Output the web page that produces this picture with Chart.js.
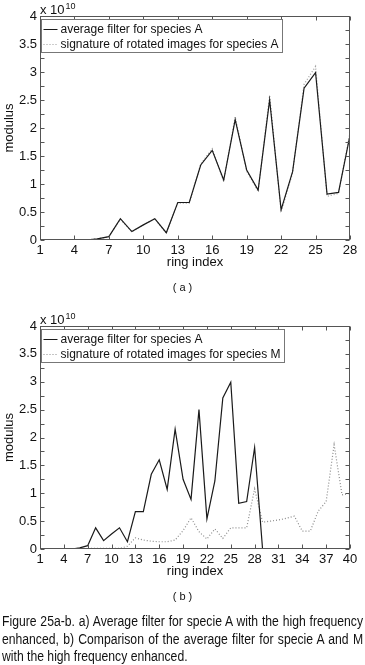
<!DOCTYPE html>
<html lang="en">
<head>
<meta charset="UTF-8">
<script src="https://cdn.jsdelivr.net/npm/chart.js"></script>
<title>Figure 25a-b</title>
<style>
    body { margin: 0; background: #fff; }
    #page { position: relative; width: 365px; height: 665px; overflow: hidden; font-family: "Liberation Sans", Arial, sans-serif; color: #111; }
    canvas { position: absolute; left: 0; }
    .expo { position: absolute; left: 40px; font-size: 13px; line-height: 13px; }
    .expo sup { font-size: 9px; position: relative; top: -5px; left: 1px; vertical-align: baseline; }
    .sub { position: absolute; left: 0; width: 365px; text-align: center; font-size: 11px; }
    .caption { position: absolute; left: 2px; top: 613px; width: 415px; transform: scaleX(0.87); transform-origin: 0 0; font-size: 14px; line-height: 17.5px; white-space: nowrap; }
    .caption .j { text-align: justify; text-align-last: justify; }
</style>
</head>
<body>
<div id="page">
    <canvas id="chartA" width="365" height="300" style="top:0"></canvas>
    <div class="expo" style="top:3px">x 10<sup>10</sup></div>
    <div class="sub" style="top:281px">( a )</div>

    <canvas id="chartB" width="365" height="300" style="top:310px"></canvas>
    <div class="expo" style="top:313px">x 10<sup>10</sup></div>
    <div class="sub" style="top:590px">( b )</div>

    <div class="caption">
        <div class="j">Figure 25a-b. a) Average filter for specie A with the high frequency</div>
        <div class="j">enhanced, b) Comparison of the average filter for specie A and M</div>
        <div>with the high frequency enhanced.</div>
    </div>
</div>

<script>
    // valores em unidades de 10^10
    const ringA = [1, 2, 3, 4, 5, 6, 7, 8, 9, 10, 11, 12, 13, 14, 15, 16, 17, 18, 19, 20, 21, 22, 23, 24, 25, 26, 27, 28];
    const avgA = [0, 0, 0, 0, 0, 0.02, 0.06, 0.38, 0.15, 0.27, 0.38, 0.13, 0.67, 0.67, 1.34, 1.6, 1.07, 2.15, 1.25, 0.89, 2.5, 0.54, 1.22, 2.71, 2.99, 0.82, 0.85, 1.87];
    const rotA = [0, 0, 0, 0, 0, 0.02, 0.06, 0.37, 0.15, 0.27, 0.38, 0.12, 0.66, 0.66, 1.36, 1.63, 1.05, 2.2, 1.23, 0.87, 2.58, 0.5, 1.2, 2.78, 3.1, 0.78, 0.83, 1.92];

    const ringB = [1, 2, 3, 4, 5, 6, 7, 8, 9, 10, 11, 12, 13, 14, 15, 16, 17, 18, 19, 20,
        21, 22, 23, 24, 25, 26, 27, 28, 29, 30, 31, 32, 33, 34, 35, 36, 37, 38, 39, 40];
    const avgB = [0, 0, 0, 0, 0, 0.02, 0.06, 0.38, 0.15, 0.27, 0.38, 0.13, 0.67, 0.67, 1.34, 1.6, 1.07, 2.15, 1.25, 0.89,
        2.5, 0.54, 1.22, 2.71, 2.99, 0.82, 0.85, 1.82, 0, 0, 0, 0, 0, 0, 0, 0, 0, 0, 0, 0];
    const rotM = [0, 0, 0, 0, 0, 0, 0.01, 0.01, 0.01, 0.01, 0.01, 0.05, 0.2, 0.16, 0.14, 0.13, 0.13, 0.16, 0.33, 0.56,
        0.31, 0.18, 0.36, 0.19, 0.38, 0.38, 0.38, 1.08, 0.48, 0.5, 0.52, 0.55, 0.59, 0.32, 0.32, 0.68, 0.85, 1.87, 0.97, 1.0];

    const xTicksA = [1, 4, 7, 10, 13, 16, 19, 22, 25, 28];
    const xTicksB = [1, 4, 7, 10, 13, 16, 19, 22, 25, 28, 31, 34, 37, 40];
    const yTicks = [0, 0.5, 1, 1.5, 2, 2.5, 3, 3.5, 4];

    const fonte = { family: '"Liberation Sans", Arial, sans-serif', size: 13 };

    // caixa estilo matlab com ticks para dentro + legenda com borda
    const caixa = {
        id: 'caixa',
        afterDatasetsDraw(chart) {
            const { ctx, chartArea: a, scales: { x, y } } = chart;
            const L = Math.round(a.left) + 0.5, R = Math.round(a.right) - 0.5;
            const T = Math.round(a.top) + 0.5, B = Math.round(a.bottom) - 0.5;
            ctx.save();
            ctx.strokeStyle = '#555';
            ctx.lineWidth = 1;
            ctx.strokeRect(L, T, R - L, B - T);
            ctx.beginPath();
            x.ticks.forEach(t => {
                const px = Math.round(x.getPixelForValue(t.value)) + 0.5;
                ctx.moveTo(px, B); ctx.lineTo(px, B - 4);
                ctx.moveTo(px, T); ctx.lineTo(px, T + 4);
            });
            for (let i = 0; i < yTicks.length - 1; i++) {
                [yTicks[i], (yTicks[i] + yTicks[i + 1]) / 2].forEach(v => {
                    const py = Math.round(y.getPixelForValue(v)) + 0.5;
                    ctx.moveTo(L, py); ctx.lineTo(L + 4, py);
                    ctx.moveTo(R, py); ctx.lineTo(R - 4, py);
                });
            }
            ctx.stroke();

            // legenda
            const ds = chart.data.datasets;
            ctx.font = '12px "Liberation Sans", Arial, sans-serif';
            let tw = 0;
            ds.forEach(d => { tw = Math.max(tw, ctx.measureText(d.label).width); });
            const lx = L + 1, ly = T + 3;
            const w = Math.round(19 + tw + 4), h = 33;
            ctx.fillStyle = '#fff';
            ctx.fillRect(lx, ly, w, h);
            ctx.strokeStyle = '#777';
            ctx.strokeRect(lx, ly, w, h);
            ds.forEach((d, i) => {
                const cy = Math.round(ly + 9 + i * 15.5) + 0.5;
                ctx.beginPath();
                ctx.strokeStyle = d.borderColor;
                ctx.setLineDash(d.borderDash || []);
                ctx.moveTo(lx + 2, cy);
                ctx.lineTo(lx + 16, cy);
                ctx.stroke();
                ctx.setLineDash([]);
                ctx.fillStyle = '#111';
                ctx.textBaseline = 'middle';
                ctx.fillText(d.label, lx + 19, cy);
            });
            ctx.restore();
        }
    };

    function criarGrafico(id, rings, serie1, serie2, nome1, nome2, cor2, xTicks, padBottom) {
        const ctx = document.getElementById(id).getContext('2d');
        return new Chart(ctx, {
            type: 'line',
            data: {
                datasets: [
                    {
                        label: nome1,
                        data: rings.map((r, i) => ({ x: r, y: serie1[i] })),
                        borderColor: '#1a1a1a',
                        borderWidth: 1.2,
                        fill: false
                    },
                    {
                        label: nome2,
                        data: rings.map((r, i) => ({ x: r, y: serie2[i] })),
                        borderColor: cor2,
                        borderWidth: 1.2,
                        borderDash: [1, 2],
                        fill: false
                    }
                ]
            },
            options: {
                responsive: false,
                animation: false,
                layout: { padding: { left: 0, right: 15, top: 16, bottom: padBottom } },
                elements: { point: { radius: 0 }, line: { tension: 0 } },
                scales: {
                    x: {
                        type: 'linear',
                        min: rings[0],
                        max: rings[rings.length - 1],
                        grid: { display: false, drawTicks: false },
                        border: { display: false },
                        afterBuildTicks: s => { s.ticks = xTicks.map(v => ({ value: v })); },
                        afterFit: s => { s.height = 34; },
                        ticks: { padding: 3, color: '#111', font: fonte, autoSkip: false, maxRotation: 0 },
                        title: { display: true, text: 'ring index', color: '#111', font: fonte, padding: { top: 0, bottom: 4 } }
                    },
                    y: {
                        min: 0,
                        max: 4,
                        grid: { display: false, drawTicks: false },
                        border: { display: false },
                        afterBuildTicks: s => { s.ticks = yTicks.map(v => ({ value: v })); },
                        afterFit: s => { s.width = 40; },
                        ticks: { padding: 3, color: '#111', font: fonte, callback: v => String(v) },
                        title: { display: true, text: 'modulus', color: '#111', font: fonte, padding: { top: 2, bottom: 0 } }
                    }
                },
                plugins: {
                    legend: { display: false },
                    tooltip: { enabled: false }
                }
            },
            plugins: [caixa]
        });
    }

    criarGrafico('chartA', ringA, avgA, rotA, 'average filter for species A', 'signature of rotated images for species A', '#9a9a9a', xTicksA, 26);
    criarGrafico('chartB', ringB, avgB, rotM, 'average filter for species A', 'signature of rotated images for species M', '#8a8a8a', xTicksB, 27);
</script>
</body>
</html>
